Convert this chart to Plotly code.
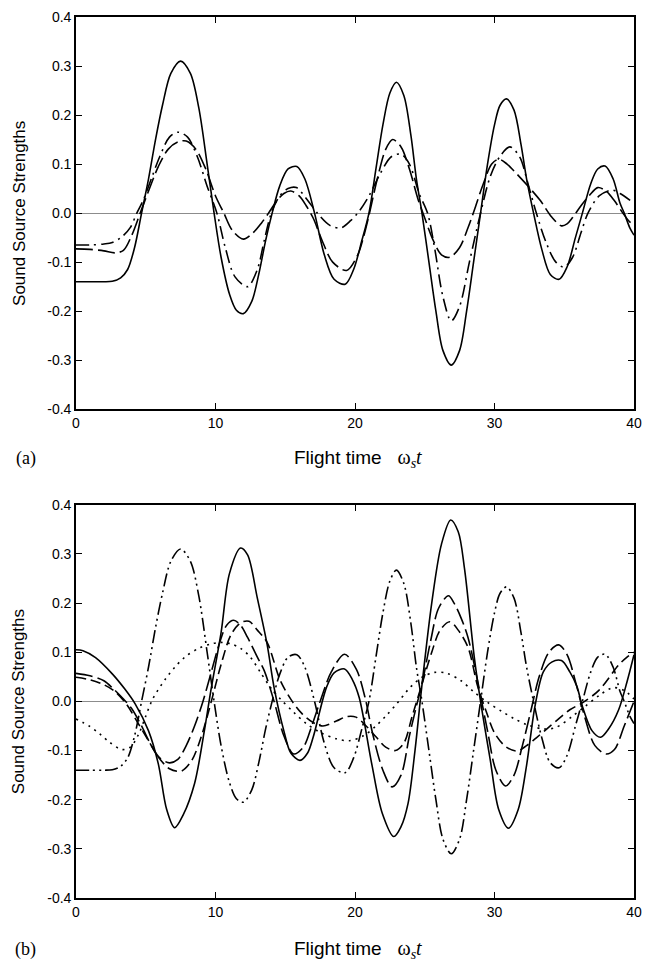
import plotly.graph_objects as go

# ---------------- data ----------------
# Panel (a)
a_solid_x = [0, 1, 2, 2.6, 3.2, 3.7, 4.2, 4.7, 5.2, 5.7, 6.2, 6.8, 7.5, 8.2, 8.8, 9.4, 9.9, 10.4, 11.0, 11.5,
             12.0, 12.6, 13.1, 13.6, 14.06, 14.6, 15.2, 15.83, 16.4, 17.1, 17.8, 18.5, 19.3, 19.9, 20.5, 21.0,
             21.5, 22.0, 22.5, 22.97, 23.5, 24.0, 24.4, 24.8, 25.3, 25.8, 26.3, 26.9, 27.5, 28.0, 28.5, 29.0,
             29.5, 30.0, 30.4, 30.86, 31.4, 31.9, 32.3, 32.8, 33.4, 34.0, 34.63, 35.2, 35.8, 36.3, 36.9, 37.4,
             37.93, 38.5, 39.0, 39.3, 39.7, 40]
a_solid_y = [-0.14, -0.14, -0.14, -0.139, -0.132, -0.115, -0.07, 0.0, 0.07, 0.15, 0.22, 0.285, 0.31, 0.285,
             0.215, 0.1, 0.0, -0.09, -0.165, -0.198, -0.205, -0.18, -0.125, -0.055, 0.0, 0.055, 0.09, 0.095,
             0.07, 0.0, -0.085, -0.135, -0.145, -0.115, -0.055, 0.0, 0.09, 0.18, 0.245, 0.267, 0.24, 0.16, 0.07,
             0.0, -0.1, -0.2, -0.28, -0.31, -0.28, -0.2, -0.1, 0.0, 0.1, 0.18, 0.22, 0.233, 0.21, 0.14, 0.07,
             0.0, -0.075, -0.125, -0.135, -0.11, -0.05, 0.0, 0.06, 0.09, 0.096, 0.07, 0.02, 0.0, -0.03, -0.045]

a_longdash_x = [0, 1, 2, 2.8, 3.4, 4.0, 4.6, 5.2, 5.9, 6.6, 7.3, 7.9, 8.6, 9.3, 10.0, 10.6, 11.2, 12.0, 12.7,
                13.3, 13.8, 14.4, 14.9, 15.4, 16.0, 16.5, 17.0, 17.7, 18.4, 19.4, 20.2, 20.6, 21.0, 21.6, 22.2,
                22.7, 23.3, 23.9, 24.5, 25.0, 25.6, 26.2, 26.8, 27.5, 28.1, 28.6, 29.2, 29.8, 30.3, 30.9, 31.4,
                32.5, 33.3, 34.1, 34.8, 35.2, 35.6, 36.2, 36.8, 37.4, 38.0, 38.6, 39.2, 39.6, 40]
a_longdash_y = [-0.073, -0.074, -0.077, -0.081, -0.076, -0.045, 0.0, 0.045, 0.095, 0.13, 0.145, 0.147, 0.13,
                0.09, 0.035, 0.0, -0.035, -0.053, -0.04, -0.02, 0.0, 0.025, 0.04, 0.045, 0.035, 0.015, -0.01,
                -0.06, -0.1, -0.117, -0.085, -0.05, -0.005, 0.07, 0.13, 0.15, 0.135, 0.09, 0.03, -0.01, -0.055,
                -0.085, -0.09, -0.07, -0.03, 0.01, 0.06, 0.1, 0.11, 0.1, 0.086, 0.052, 0.025, -0.008, -0.026,
                -0.022, -0.009, 0.015, 0.036, 0.052, 0.045, 0.025, 0.0, -0.015, -0.026]

a_dashdot_x = [0, 1, 2, 2.6, 3.3, 3.9, 4.36, 4.8, 5.4, 6.0, 6.7, 7.3, 8.0, 8.7, 9.4, 10.1, 10.7, 11.4, 12.3,
               13.0, 13.5, 14.0, 14.6, 15.2, 15.8, 16.5, 17.3, 18.2, 19.0, 19.7, 20.3, 21.0, 21.8, 22.6, 23.3,
               23.9, 24.6, 25.2, 25.7, 26.3, 26.9, 27.5, 28.2, 29.0, 29.7, 30.4, 31.1, 31.8, 32.4, 33.0, 33.7,
               34.4, 35.0, 35.6, 36.2, 36.7, 37.5, 38.4, 39.0, 40]
a_dashdot_y = [-0.065, -0.065, -0.063, -0.06, -0.048, -0.029, 0.0, 0.025, 0.07, 0.115, 0.155, 0.165, 0.155,
               0.115, 0.055, 0.0, -0.07, -0.13, -0.15, -0.115, -0.055, 0.0, 0.035, 0.05, 0.052, 0.03, 0.0,
               -0.025, -0.03, -0.015, 0.004, 0.035, 0.08, 0.115, 0.12, 0.1, 0.04, 0.0, -0.07, -0.17, -0.22,
               -0.19, -0.1, 0.0, 0.075, 0.116, 0.135, 0.115, 0.06, 0.0, -0.06, -0.1, -0.11, -0.09, -0.04, 0.0,
               0.035, 0.047, 0.04, 0.02]

# Panel (b)
b_solid_x = [0, 0.5, 1.4, 2.6, 3.5, 4.24, 5.2, 5.9, 6.5, 7.07, 7.7, 8.5, 9.2, 9.66, 10.4, 11.0, 11.8, 12.3,
             13.0, 13.7, 14.2, 14.9, 15.4, 16.06, 16.6, 17.0, 17.95, 18.5, 19.25, 19.8, 20.3, 21.2, 21.96,
             22.78, 23.3, 23.8, 24.3, 24.78, 25.5, 26.2, 26.86, 27.4, 27.85, 28.55, 29.0, 29.7, 30.3, 31.0,
             31.7, 32.3, 32.9, 33.5, 34.1, 34.8, 35.4, 35.9, 36.3, 37.0, 37.6, 38.2, 38.9, 39.5, 40]
b_solid_y = [0.105, 0.103, 0.089, 0.056, 0.025, -0.005, -0.06, -0.127, -0.22, -0.257, -0.23, -0.167, -0.06,
             0.021, 0.14, 0.26, 0.312, 0.298, 0.21, 0.116, 0.028, -0.06, -0.105, -0.12, -0.105, -0.073, 0.028,
             0.058, 0.066, 0.045, 0.008, -0.127, -0.228, -0.275, -0.255, -0.208, -0.1, 0.028, 0.2, 0.32,
             0.369, 0.345, 0.27, 0.09, 0.0, -0.12, -0.22, -0.258, -0.22, -0.13, -0.01, 0.06, 0.08, 0.083,
             0.06, 0.031, -0.01, -0.06, -0.073, -0.055, -0.017, 0.04, 0.095]

b_longdash_x = [0, 1.0, 2.0, 2.7, 3.4, 4.0, 4.7, 5.4, 6.0, 6.7, 7.3, 7.9, 8.5, 9.1, 9.7, 10.3, 10.8, 11.3,
                11.8, 12.3, 13.0, 13.5, 14.2, 14.9, 15.6, 16.3, 16.9, 17.5, 18.3, 19.25, 20.1, 20.7, 21.3,
                22.0, 22.66, 23.3, 23.9, 24.4, 24.8, 25.4, 26.0, 26.7, 27.1, 27.6, 28.1, 28.8, 29.5, 30.1,
                30.8, 31.4, 32.0, 32.6, 33.2, 33.9, 34.6, 35.2, 35.9, 36.5, 37.2, 38.0, 38.6, 39.3, 40]
b_longdash_y = [0.057, 0.052, 0.042, 0.025, 0.005, -0.015, -0.05, -0.09, -0.115, -0.125, -0.118, -0.09,
                -0.05, 0.0, 0.06, 0.12, 0.155, 0.165, 0.155, 0.13, 0.09, 0.062, 0.0, -0.07, -0.107, -0.093,
                -0.05, 0.0, 0.06, 0.096, 0.065, 0.01, -0.07, -0.14, -0.174, -0.15, -0.07, -0.01, 0.035, 0.12,
                0.19, 0.215, 0.2, 0.17, 0.13, 0.04, -0.06, -0.14, -0.172, -0.15, -0.09, -0.02, 0.05, 0.1,
                0.115, 0.095, 0.03, -0.035, -0.09, -0.107, -0.098, -0.05, 0.0]

b_dash_x = [0, 1.0, 2.0, 2.8, 3.6, 4.4, 5.2, 5.9, 6.7, 7.54, 8.3, 9.0, 9.7, 10.4, 11.1, 11.8, 12.4, 13.0,
            13.7, 14.65, 15.5, 16.2, 17.0, 17.7, 18.66, 19.4, 20.07, 20.8, 21.5, 22.2, 22.9, 23.5, 24.1,
            24.8, 25.5, 26.1, 26.8, 27.4, 28.1, 28.8, 29.4, 30.0, 30.8, 31.6, 32.3, 33.0, 34.0, 35.4, 36.3,
            37.5, 38.9, 39.5, 40]
b_dash_y = [0.049, 0.044, 0.034, 0.02, -0.005, -0.042, -0.08, -0.113, -0.137, -0.142, -0.12, -0.07, 0.0,
            0.075, 0.135, 0.16, 0.163, 0.145, 0.12, 0.042, 0.0, -0.025, -0.043, -0.05, -0.04, -0.031, -0.032,
            -0.05, -0.072, -0.093, -0.1, -0.085, -0.03, 0.035, 0.1, 0.145, 0.162, 0.145, 0.11, 0.03, -0.02,
            -0.064, -0.092, -0.101, -0.09, -0.074, -0.05, -0.017, -0.003, 0.023, 0.074, 0.09, 0.1]

b_dot_x = [0, 0.94, 1.7, 2.4, 3.3, 3.9, 4.5, 5.0, 5.5, 6.4, 7.1, 7.8, 8.8, 9.7, 10.4, 11.1, 11.8, 12.5,
           13.2, 13.9, 14.65, 15.6, 16.5, 17.5, 18.66, 19.6, 20.6, 21.5, 22.2, 22.9, 24.0, 24.8, 25.7, 26.6,
           27.6, 28.5, 29.5, 30.5, 31.4, 32.3, 33.5, 34.4, 35.6, 36.5, 37.5, 38.5, 39.3, 40]
b_dot_y = [-0.036, -0.05, -0.066, -0.083, -0.098, -0.093, -0.066, -0.03, 0.005, 0.045, 0.07, 0.09, 0.108,
           0.117, 0.12, 0.117, 0.108, 0.09, 0.06, 0.03, 0.005, -0.022, -0.045, -0.063, -0.076, -0.08, -0.07,
           -0.05, -0.03, -0.008, 0.03, 0.049, 0.059, 0.057, 0.042, 0.02, -0.002, -0.02, -0.035, -0.047, -0.056,
           -0.053, -0.03, -0.01, 0.012, 0.028, 0.022, 0.005]

# panel (b) dash-dot-dot curve is the same history as panel (a) solid curve
b_dashdotdot_x = a_solid_x
b_dashdotdot_y = a_solid_y

x_tick_vals = [0, 10, 20, 30, 40]
x_tick_text = ["0", "10", "20", "30", "40"]
y_tick_vals = [-0.4, -0.3, -0.2, -0.1, 0.0, 0.1, 0.2, 0.3, 0.4]
y_tick_text = ["-0.4", "-0.3", "-0.2", "-0.1", "0.0", "0.1", "0.2", "0.3", "0.4"]

# ---------------- figure ----------------
W, H = 651, 962
ML, MR, MT, MB = 76, 9, 13, 64
PW, PH = W - ML - MR, H - MT - MB

def py(p):  # pixel row -> paper y
    return (H - MB - p) / PH

def px(p):  # pixel column -> paper x
    return (p - ML) / PW

LW = 1.6
styles = {
    "solid": "solid",
    "longdash": "17px,5px",
    "dashdot": "13px,5px,2px,5px",
    "dashdotdot": "13px,4px,2px,4px,2px,4px",
    "dash": "10px,5px",
    "dot": "2px,5px",
}

fig = go.Figure()

def add(x, y, dash, xa, ya):
    fig.add_trace(go.Scatter(x=x, y=y, mode="lines", xaxis=xa, yaxis=ya,
                             line=dict(color="black", width=LW, dash=styles[dash],
                                       shape="spline", smoothing=0.9),
                             showlegend=False, hoverinfo="skip"))

add(a_longdash_x, a_longdash_y, "longdash", "x", "y")
add(a_dashdot_x, a_dashdot_y, "dashdot", "x", "y")
add(a_solid_x, a_solid_y, "solid", "x", "y")

add(b_dot_x, b_dot_y, "dot", "x2", "y2")
add(b_dash_x, b_dash_y, "dash", "x2", "y2")
add(b_longdash_x, b_longdash_y, "longdash", "x2", "y2")
add(b_dashdotdot_x, b_dashdotdot_y, "dashdotdot", "x2", "y2")
add(b_solid_x, b_solid_y, "solid", "x2", "y2")

tickfont = dict(family="Liberation Sans, Arial, sans-serif", size=14, color="black")
xcommon = dict(range=[0, 40], tickvals=x_tick_vals, ticktext=x_tick_text, ticks="inside", ticklen=6,
               tickwidth=1.3, tickcolor="black", showline=True, linecolor="black", linewidth=1.7,
               mirror="ticks", showgrid=False, zeroline=False, tickfont=tickfont)
ycommon = dict(range=[-0.4, 0.4], tickvals=y_tick_vals, ticktext=y_tick_text, ticks="inside", ticklen=6,
               tickwidth=1.3, tickcolor="black", showline=True, linecolor="black", linewidth=1.7,
               mirror="ticks", showgrid=False, zeroline=True, zerolinecolor="#8c8c8c", zerolinewidth=1,
               tickfont=tickfont)

top_lo = py(407)
bot_hi = py(503)

fig.update_layout(
    width=W, height=H,
    margin=dict(l=ML, r=MR, t=MT, b=MB, pad=0),
    paper_bgcolor="white", plot_bgcolor="white",
    xaxis=dict(domain=[0, 1], anchor="y", **xcommon),
    yaxis=dict(domain=[top_lo, 1], anchor="x", **ycommon),
    xaxis2=dict(domain=[0, 1], anchor="y2", **xcommon),
    yaxis2=dict(domain=[0, bot_hi], anchor="x2", **ycommon),
)

xtitle_font = dict(family="Liberation Sans, Arial, sans-serif", size=19, color="black")
ytitle_font = dict(family="Liberation Sans, Arial, sans-serif", size=17, color="black")
xtitle = ("Flight time&nbsp;&nbsp;&nbsp;<span style=\"font-family:'Liberation Serif', 'Times New Roman', serif;"
          "font-size:20px\">ω<sub><i>s</i></sub><i>t</i></span>")
label_font = dict(family="Liberation Serif, Times New Roman, serif", size=18, color="black")

for yc, lab in [(457, "(a)"), (950, "(b)")]:
    fig.add_annotation(x=px(362), y=py(yc), xref="paper", yref="paper", text=xtitle, showarrow=False,
                       xanchor="center", yanchor="middle", font=xtitle_font)
    fig.add_annotation(x=px(25), y=py(yc), xref="paper", yref="paper", text=lab, showarrow=False,
                       xanchor="center", yanchor="middle", font=label_font)

for yc in [(13 + 407) / 2, (503 + 898) / 2]:
    fig.add_annotation(x=px(18), y=py(yc), xref="paper", yref="paper", text="Sound Source Strengths",
                       showarrow=False, textangle=-90, xanchor="center", yanchor="middle",
                       font=ytitle_font)

fig.write_html("out.html")
